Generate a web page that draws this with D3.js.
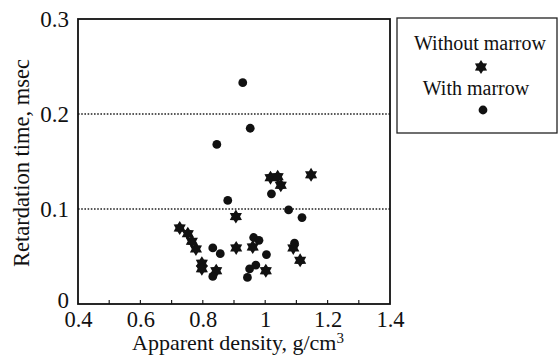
<!DOCTYPE html>
<html>
<head>
<meta charset="utf-8">
<script src="https://cdn.jsdelivr.net/npm/d3@7/dist/d3.min.js"></script>
<style>
  body { margin: 0; background: #fff; }
  svg { display: block; }
  text { font-family: "Liberation Serif", "Times New Roman", serif; fill: #111; }
</style>
</head>
<body>
<svg id="chart" width="559" height="356"></svg>
<script>
// Data
const withoutMarrowX = [0.726, 0.752, 0.765, 0.778, 0.797, 0.797, 0.843, 0.906, 0.907, 0.960, 1.002, 1.017, 1.040, 1.050, 1.147, 1.090, 1.112];
const withoutMarrowY = [0.080, 0.074, 0.066, 0.058, 0.043, 0.037, 0.035, 0.092, 0.059, 0.060, 0.035, 0.133, 0.134, 0.125, 0.136, 0.059, 0.046];
const withMarrowX = [0.928, 0.952, 0.845, 0.880, 1.020, 1.075, 1.118, 0.832, 0.856, 0.832, 0.963, 0.980, 1.004, 0.943, 0.950, 0.970, 1.094];
const withMarrowY = [0.233, 0.185, 0.168, 0.109, 0.116, 0.099, 0.091, 0.059, 0.053, 0.029, 0.070, 0.067, 0.052, 0.028, 0.037, 0.041, 0.064];
const xTickLabels = ["0.4", "0.6", "0.8", "1", "1.2", "1.4"];
const xTickValues = [0.4, 0.6, 0.8, 1.0, 1.2, 1.4];
const yTickLabels = ["0", "0.1", "0.2", "0.3"];
const yTickValues = [0, 0.1, 0.2, 0.3];
const legendLabels = ["Without marrow", "With marrow"];

const svg = d3.select("#chart");
const mLeft = 78, mRight = 390, mTop = 19, mBottom = 304;

const x = d3.scaleLinear().domain([0.4, 1.4]).range([mLeft, mRight]);
const y = d3.scaleLinear().domain([0, 0.3]).range([mBottom, mTop]);

// gridlines (dotted) at 0.1 and 0.2
svg.append("g").selectAll("line")
  .data([0.1, 0.2]).join("line")
  .attr("x1", mLeft).attr("x2", mRight)
  .attr("y1", d => y(d)).attr("y2", d => y(d))
  .attr("stroke", "#222").attr("stroke-width", 1.3)
  .attr("stroke-dasharray", "1.6,1.6");

// minor x ticks inside
const minorTicks = d3.range(5, 14).map(d => d / 10);
svg.append("g").selectAll("line")
  .data(minorTicks).join("line")
  .attr("x1", d => x(d)).attr("x2", d => x(d))
  .attr("y1", mBottom).attr("y2", mBottom - 4)
  .attr("stroke", "#222").attr("stroke-width", 1.2);

// frame
svg.append("rect")
  .attr("x", mLeft).attr("y", mTop)
  .attr("width", mRight - mLeft).attr("height", mBottom - mTop)
  .attr("fill", "none").attr("stroke", "#111").attr("stroke-width", 1.8);

// x axis labels
const xAxis = d3.axisBottom(x).tickValues(xTickValues).tickSize(0).tickPadding(0)
  .tickFormat((d, i) => xTickLabels[i]);
const gx = svg.append("g").attr("transform", `translate(0,${mBottom})`).call(xAxis);
gx.select(".domain").remove();
gx.selectAll("text").style("font-size", "22.5px")
  .attr("fill", "#111").attr("y", 7).attr("dy", "0.71em");

// y axis labels
const yAxis = d3.axisLeft(y).tickValues(yTickValues).tickSize(0).tickPadding(0)
  .tickFormat((d, i) => yTickLabels[i]);
const gy = svg.append("g").attr("transform", `translate(${mLeft},0)`).call(yAxis);
gy.select(".domain").remove();
gy.selectAll("text").style("font-size", "23px")
  .attr("fill", "#111").attr("x", -9)
  .attr("dy", d => d === 0 ? "0.15em" : "0.32em");

// axis titles
const xt = svg.append("text").attr("x", 238).attr("y", 350)
  .attr("text-anchor", "middle").style("font-size", "22px");
xt.append("tspan").text("Apparent density, g/cm");
xt.append("tspan").text("3").style("font-size", "15px").attr("dy", -7);

svg.append("text")
  .attr("transform", `translate(29,163) rotate(-90)`)
  .attr("text-anchor", "middle").style("font-size", "22.5px")
  .text("Retardation time, msec");

// markers
const star = d3.symbol().type({
  draw(ctx, size) {
    const R = Math.sqrt(size);
    const r = R * 0.6;
    for (let i = 0; i < 12; i++) {
      const a = -Math.PI / 2 + i * Math.PI / 6;
      const rr = i % 2 === 0 ? R : r;
      const px = rr * Math.cos(a), py = rr * Math.sin(a);
      if (i === 0) ctx.moveTo(px, py); else ctx.lineTo(px, py);
    }
    ctx.closePath();
  }
}).size(49);

const starData = withoutMarrowX.map((v, i) => [v, withoutMarrowY[i]]);
const dotData = withMarrowX.map((v, i) => [v, withMarrowY[i]]);

svg.append("g").selectAll("path")
  .data(starData).join("path")
  .attr("d", star)
  .attr("transform", d => `translate(${x(d[0])},${y(d[1])})`)
  .attr("fill", "#111");

svg.append("g").selectAll("circle")
  .data(dotData).join("circle")
  .attr("cx", d => x(d[0])).attr("cy", d => y(d[1]))
  .attr("r", 4.4).attr("fill", "#111");

// legend
const lg = svg.append("g");
lg.append("rect").attr("x", 397).attr("y", 18).attr("width", 160).attr("height", 115)
  .attr("fill", "none").attr("stroke", "#222").attr("stroke-width", 1.3);
lg.append("text").attr("x", 480).attr("y", 50).attr("text-anchor", "middle")
  .style("font-size", "20px").text(legendLabels[0]);
lg.append("path").attr("d", star).attr("transform", "translate(481,67)").attr("fill", "#111");
lg.append("text").attr("x", 476).attr("y", 95).attr("text-anchor", "middle")
  .style("font-size", "20px").text(legendLabels[1]);
lg.append("circle").attr("cx", 483).attr("cy", 110).attr("r", 4.4).attr("fill", "#111");
</script>
</body>
</html>
